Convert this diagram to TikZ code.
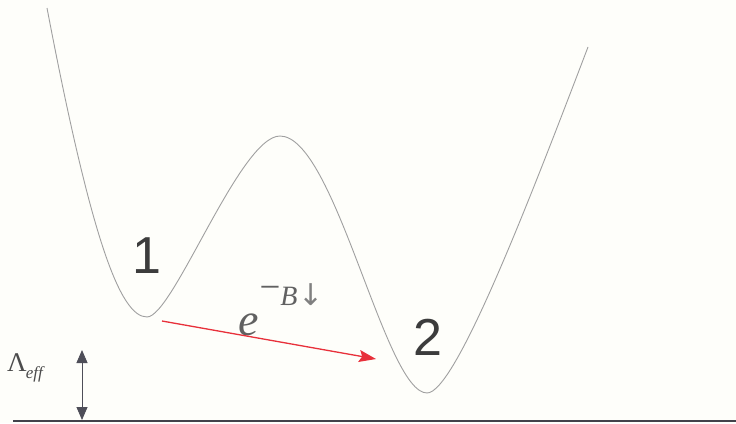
\documentclass[tikz,border=0pt]{standalone}
\usepackage{fontspec}
\setmainfont{Liberation Sans}
\newfontfamily\serifit{Liberation Serif}
\newfontfamily\arrowfont{DejaVu Sans}
\usetikzlibrary{arrows.meta}
\definecolor{bgc}{HTML}{FEFEFA}
\definecolor{curvec}{HTML}{A0A0A0}
\definecolor{redc}{HTML}{E8303A}
\definecolor{darkc}{HTML}{4E4E58}
\definecolor{textc}{HTML}{3C3C3C}
\tikzset{
  wellcurve/.style={draw=curvec, line width=0.9pt},
  bigtext/.style={font=\fontsize{52}{52}\selectfont, text=textc, inner sep=0pt},
  redarrow/.style={draw=redc, line width=1.3pt, -{Stealth[length=17pt,width=12pt,inset=3pt]}},
  dblarrow/.style={draw=darkc, line width=0.9pt, {Triangle[length=13pt,width=11pt]}-{Triangle[length=13pt,width=11pt]}},
}
\begin{document}
\begin{tikzpicture}[x=1pt,y=-1pt]
\fill[bgc] (0,0) rectangle (736,423);
\useasboundingbox (0,0) rectangle (736,423);
% potential curve
\draw[wellcurve] (47,8) .. controls (91,238) and (120,317) .. (147,317)
  .. controls (173,317) and (240,136) .. (280,136)
  .. controls (335,136) and (385,393) .. (427,393)
  .. controls (455,393) and (527,207) .. (588,47);
% baseline
\coordinate (bl) at (13,421);
\coordinate (br) at (736,421);
\draw[draw=darkc!85!black, line width=2.6pt] (bl) -- (br);
% labels
\node[bigtext] (one) at (147,256) {1};
\node[bigtext] (two) at (428,337) {2};
\node[inner sep=0pt, text=black!62, anchor=base west] (rate) at (238,335)
  {\serifit\fontsize{46}{46}\selectfont\itshape e\upshape\hspace{1pt}%
   \raisebox{30pt}{\fontsize{37}{37}\selectfont\raisebox{6pt}{−}}%
   \raisebox{30pt}{\fontsize{28}{28}\selectfont\itshape B}%
   \hspace{1pt}\raisebox{30pt}{\arrowfont\fontsize{30}{30}\selectfont\color{black!50}↓}};
% red arrow
\coordinate (rs) at (162,321);
\coordinate (re) at (376,359);
\draw[redarrow] (rs) -- (re);
% Lambda_eff
\coordinate (at) at (82,350);
\coordinate (ab) at (82,420);
\draw[dblarrow] (at) -- (ab);
\node[inner sep=0pt, text=black!70, anchor=base west] (lam) at (7,371)
  {\serifit\fontsize{27}{27}\selectfont Λ\hspace{-1pt}\raisebox{-7pt}{\fontsize{17}{17}\selectfont\itshape eff}};
\end{tikzpicture}
\end{document}
